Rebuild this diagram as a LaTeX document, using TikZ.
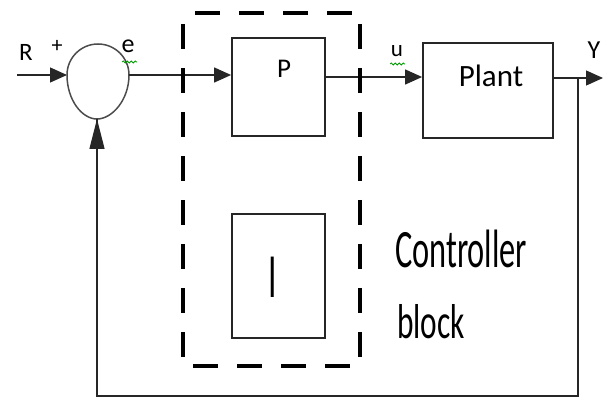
\documentclass[tikz,border=0pt]{standalone}
\usepackage{fontspec}
\setmainfont{Carlito}
\usetikzlibrary{arrows.meta,calc,decorations.pathmorphing}
\begin{document}
\begin{tikzpicture}[x=1pt,y=-1pt,
  blk/.style={draw=black!85,line width=1.8pt,minimum width=#1,inner sep=0pt},
  wire/.style={draw=black!85,line width=1.3pt},
  arr/.style={wire,-{Triangle[length=17pt,width=15pt]}},
  bigarr/.style={wire,-{Triangle[length=30pt,width=15pt]}},
  lbl/.style={inner sep=0pt,font=\fontsize{#1}{#1}\selectfont},
  squig/.style={draw=green!60!black,line width=0.8pt,decorate,decoration={snake,amplitude=1pt,segment length=4pt}}]
\useasboundingbox (0,0) rectangle (603,398);
% blocks
\node[blk=93pt,minimum height=98pt] (P) at (278.5,87) {};
\node[blk=93pt,minimum height=124pt] (I) at (278.5,276) {};
\node[blk=130pt,minimum height=95pt] (Plant) at (488,90.5) {};
% summing junction
\coordinate (sumL) at (67,75);
\coordinate (sumR) at (129,75);
\coordinate (sumB) at (97,119);
\draw[draw=black!70,line width=1.5pt] (sumL) arc[start angle=180,end angle=360,radius=31]
  .. controls (129,100) and (112,119) .. (sumB)
  .. controls (82,119) and (67,100) .. (sumL);
% coordinates
\coordinate (Rin) at (17,75);
\coordinate (Pout) at ([yshift=10pt]P.east);
\coordinate (PlantOut) at ([yshift=12.5pt]Plant.east);
\coordinate (branch) at (578,78);
\coordinate (Yout) at (603,78);
\coordinate (fbR) at (578,396);
\coordinate (fbL) at (97,396);
% connectors
\draw[arr] (Rin) -- (sumL);
\draw[arr] (sumR) -- (sumR -| P.west);
\draw[arr] (Pout) -- (Pout -| Plant.west);
\draw[arr] (PlantOut) -- (Yout);
\draw[wire] (branch) -- (fbR) -- (fbL) -- (sumB);
\draw[bigarr] (97,160) -- (sumB);
% dashed controller block
\draw[line width=4.5pt,dash pattern=on 25pt off 19pt,dash phase=-12pt] (183,13) -- (360,13) -- (360,366) -- (183,366) -- cycle;
% labels
\node[lbl=25] (Rl) at (26,52) {R};
\node[lbl=22] (plus) at (57,46) {+};
\node[lbl=26] (el) at (128,46) {e};
\node[lbl=23] (ul) at (397,51) {u};
\node[lbl=26] (Yl) at (594,50) {Y};
\node[lbl=27] (Pl) at (284,69) {P};
\node[lbl=31] (Plantl) at (491,76) {Plant};
\node[inner sep=0pt] (Il) at (273,277) {\scalebox{0.8}[1.5]{\fontsize{42}{42}\selectfont I}};
\node[inner sep=0pt,anchor=base west] (ctrl) at (395,268) {\scalebox{0.6}[1]{\fontsize{54}{54}\selectfont Controller}};
\node[inner sep=0pt,anchor=base west] (blockl) at (397,338) {\scalebox{0.64}[1]{\fontsize{49}{49}\selectfont block}};
% spell-check squiggles
\draw[squig] (122,62) -- (137,62);
\draw[squig] (390,64) -- (405,64);
\end{tikzpicture}
\end{document}
